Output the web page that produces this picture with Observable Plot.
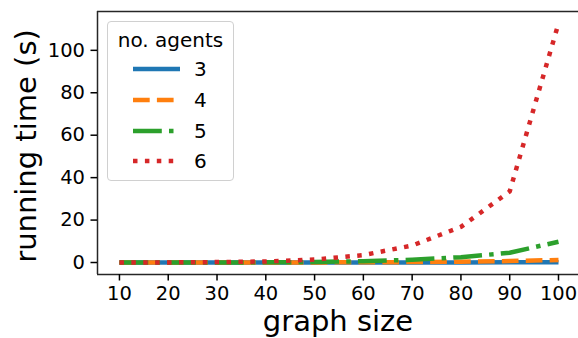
<!DOCTYPE html>
<html>
<head>
<meta charset="utf-8">
<script src="https://cdn.jsdelivr.net/npm/d3@7"></script>
<script src="https://cdn.jsdelivr.net/npm/@observablehq/plot@0.6"></script>
<style>
  html, body { margin: 0; padding: 0; background: #fff; }
  #wrap { position: relative; width: 578px; height: 338px; overflow: hidden; font-family: "DejaVu Sans", sans-serif; }
  #legend { position: absolute; left: 107px; top: 21px; width: 127px; height: 160px; border: 1px solid #d0d0d0; border-radius: 4px; background: rgba(255,255,255,0.8); box-sizing: border-box; }
  #legend .title { position: absolute; left: 0; width: 100%; top: 6px; text-align: center; font-size: 20px; color: #000; }
  #legend .row { position: absolute; left: 0; width: 100%; height: 24px; }
  #legend .row svg { position: absolute; left: 25px; top: 0; }
  #legend .row span { position: absolute; left: 86px; top: 0; line-height: 24px; font-size: 20px; color: #000; }
</style>
</head>
<body>
<div id="wrap"><div id="chart"></div><div id="legend"></div></div>
<script>
// ---- data ----
const graphSizes = [10, 20, 30, 40, 50, 60, 70, 80, 90, 100];
const agents3 = [0, 0, 0, 0, 0.01, 0.02, 0.03, 0.05, 0.07, 0.1];
const agents4 = [0, 0, 0.01, 0.02, 0.05, 0.1, 0.2, 0.4, 0.7, 1.2];
const agents5 = [0, 0.01, 0.03, 0.08, 0.25, 0.6, 1.3, 2.5, 4.6, 9.8];
const agents6 = [0, 0.05, 0.2, 0.5, 1.4, 3.5, 8.0, 16.8, 33.5, 112.7];
const seriesNames = ["3", "4", "5", "6"];
const xTicks = [10, 20, 30, 40, 50, 60, 70, 80, 90, 100];
const yTicks = [0, 20, 40, 60, 80, 100];
const xLabel = "graph size";
const yLabel = "running time (s)";
const legendTitle = "no. agents";

// ---- styles ----
const colors = ["#1f77b4", "#ff7f0e", "#2ca02c", "#d62728"];
const dashes = [null, "16.7,7.2", "28.8,7.2,4.5,7.2", "4.5,7.4"];
const lw = 4.5;

const values = [agents3, agents4, agents5, agents6];
const rows = [];
seriesNames.forEach((s, i) => graphSizes.forEach((g, j) => rows.push({series: s, size: g, time: values[i][j]})));

const xDomain = [5.5, 104.1];
const yDomain = [-5.65, 118.3];

const lineMarks = seriesNames.map((s, i) =>
  Plot.lineY(rows.filter(d => d.series === s), {
    x: "size", y: "time", stroke: colors[i], strokeWidth: lw,
    strokeDasharray: dashes[i] || undefined, strokeLinecap: "butt", strokeLinejoin: "round"
  })
);

const chart = Plot.plot({
  width: 578, height: 338,
  marginLeft: 97, marginRight: 0, marginTop: 11, marginBottom: 64,
  style: {fontFamily: "DejaVu Sans, sans-serif", color: "#000", background: "#fff", overflow: "visible"},
  x: {domain: xDomain},
  y: {domain: yDomain},
  marks: [
    ...lineMarks,
    Plot.ruleY([yDomain[1]], {stroke: "#262626", strokeWidth: 1.5}),
    Plot.ruleY([yDomain[0]], {stroke: "#262626", strokeWidth: 1.5}),
    Plot.ruleX([xDomain[0]], {stroke: "#262626", strokeWidth: 1.5}),
    Plot.axisX(xTicks, {tickSize: 6.5, tickPadding: 5, fontSize: 19.5, label: null, strokeWidth: 1.5}),
    Plot.axisY(yTicks, {tickSize: 6.5, tickPadding: 6, fontSize: 19.5, label: null, strokeWidth: 1.5}),
    Plot.text([xLabel], {frameAnchor: "bottom", dy: 56, fontSize: 29, fill: "#000"}),
    Plot.text([yLabel], {frameAnchor: "left", textAnchor: "middle", dx: -71, dy: 3, rotate: -90, fontSize: 29, fill: "#000"})
  ]
});
document.getElementById("chart").appendChild(chart);

// ---- legend ----
const legend = document.getElementById("legend");
const t = document.createElement("div");
t.className = "title"; t.textContent = legendTitle;
legend.appendChild(t);
seriesNames.forEach((s, i) => {
  const row = document.createElement("div");
  row.className = "row";
  row.style.top = (35 + i * 30.8) + "px";
  const svg = d3.create("svg").attr("width", 48).attr("height", 24);
  svg.append("line").attr("x1", 0).attr("x2", 47).attr("y1", 12).attr("y2", 12)
    .attr("stroke", colors[i]).attr("stroke-width", lw)
    .attr("stroke-dasharray", dashes[i]).attr("stroke-linecap", "butt");
  row.appendChild(svg.node());
  const lab = document.createElement("span");
  lab.textContent = s;
  row.appendChild(lab);
  legend.appendChild(row);
});
</script>
</body>
</html>
